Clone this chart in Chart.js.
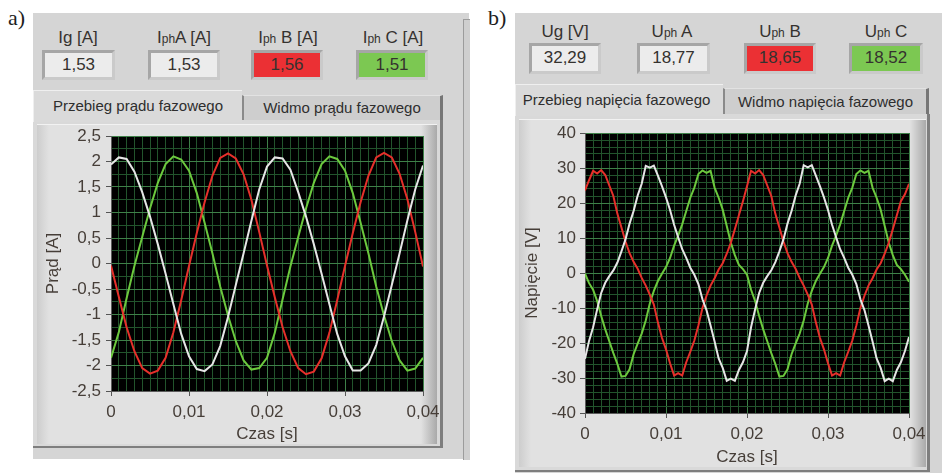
<!DOCTYPE html>
<html>
<head>
<meta charset="utf-8">
<script src="https://cdn.jsdelivr.net/npm/chart.js@4.4.1/dist/chart.umd.min.js"></script>
<style>
  body { margin:0; width:942px; height:475px; background:#fff; position:relative; overflow:hidden;
         font-family:"Liberation Sans", Arial, sans-serif; color:#35322f; }
  .a { position:absolute; }
  .panel { background:#d5d5d5; }
  .tag { font-family:"Liberation Serif", serif; font-size:22px; color:#1e1e1e; }
  .cap { width:130px; text-align:center; font-size:17px; line-height:20px; white-space:nowrap; }
  .cap .s { font-size:12px; }
  .box { box-sizing:border-box; border:3px solid; border-color:#a6a6a6 #cacaca #cacaca #a6a6a6;
         text-align:center; font-size:17px; line-height:24px; background:#ececec; }
  .red { background:#eb3034; }
  .green { background:#7cc852; }
  .tab { box-sizing:border-box; text-align:center; font-size:15px; color:#2e2e2e; white-space:nowrap; }
  .on { background:#dadada; border-top:1px solid #efefef; border-left:1px solid #efefef; }
  .off { background:#cecece; border-right:3px solid #767676; border-left:2px solid #8a8a8a; border-top:1px solid #e2e2e2; }
  .body { box-sizing:border-box; background:#d9d9d9; border-right:3px solid #7e7e7e; border-bottom:2px solid #7e7e7e; }
  .frame { background:linear-gradient(to right, #cdcdcd 0, #e1e1e1 12px, #e1e1e1 calc(100% - 16px), #a9a9a9 100%);
           border-top:1px solid #f2f2f2; }
  canvas { position:absolute; }
</style>
</head>
<body>

<div class="a tag" style="left:8px;top:5px;">a)</div>
<div class="a tag" style="left:488px;top:5px;">b)</div>

<!-- panel a -->
<div class="a panel" style="left:33px;top:13px;width:436px;height:446px;"></div>
<div class="a" style="left:463px;top:19px;width:6px;height:440px;border-left:1px solid #9c9c9c;border-top:1px solid #9c9c9c;background:#cfcfcf;"></div>

<div class="a cap" style="left:13px;top:28px;">Ig [A]</div>
<div class="a cap" style="left:119px;top:28px;">I<span class="s">ph</span>A [A]</div>
<div class="a cap" style="left:223px;top:28px;">I<span class="s">ph</span> B [A]</div>
<div class="a cap" style="left:328px;top:28px;">I<span class="s">ph</span> C [A]</div>

<div class="a box" style="left:42px;top:50px;width:73px;height:30px;">1,53</div>
<div class="a box" style="left:148px;top:50px;width:72px;height:30px;">1,53</div>
<div class="a box red" style="left:251px;top:50px;width:72px;height:30px;">1,56</div>
<div class="a box green" style="left:356px;top:50px;width:72px;height:30px;">1,51</div>

<div class="a tab off" style="left:242px;top:95px;width:201px;height:26px;line-height:24px;">Widmo prądu fazowego</div>
<div class="a body" style="left:33px;top:120px;width:410px;height:328px;"></div>
<div class="a tab on" style="left:33px;top:90px;width:209px;height:32px;line-height:30px;">Przebieg prądu fazowego</div>
<div class="a frame" style="left:37px;top:124px;width:400px;height:319px;"></div>
<canvas id="chartI" width="404" height="326" style="left:36px;top:122px;"></canvas>

<!-- panel b -->
<div class="a panel" style="left:515px;top:13px;width:427px;height:460px;"></div>

<div class="a cap" style="left:500px;top:22px;">Ug [V]</div>
<div class="a cap" style="left:607px;top:22px;">U<span class="s">ph</span> A</div>
<div class="a cap" style="left:715px;top:22px;">U<span class="s">ph</span> B</div>
<div class="a cap" style="left:821px;top:22px;">U<span class="s">ph</span> C</div>

<div class="a box" style="left:529px;top:43px;width:72px;height:31px;">32,29</div>
<div class="a box" style="left:637px;top:43px;width:73px;height:31px;">18,77</div>
<div class="a box red" style="left:744px;top:43px;width:72px;height:31px;">18,65</div>
<div class="a box green" style="left:849px;top:43px;width:74px;height:31px;">18,52</div>

<div class="a tab off" style="left:723px;top:88px;width:206px;height:27px;line-height:25px;">Widmo napięcia fazowego</div>
<div class="a body" style="left:515px;top:114px;width:415px;height:358px;"></div>
<div class="a tab on" style="left:515px;top:84px;width:208px;height:32px;line-height:30px;padding-right:6px;">Przebieg napięcia fazowego</div>
<div class="a frame" style="left:519px;top:119px;width:407px;height:347px;"></div>
<canvas id="chartU" width="412" height="350" style="left:518px;top:118px;"></canvas>

<script>
// time in ms
const timeI = [0, 1, 2, 3, 4, 5, 6, 7, 8, 9, 10, 11, 12, 13, 14, 15, 16, 17, 18, 19, 20,
  21, 22, 23, 24, 25, 26, 27, 28, 29, 30, 31, 32, 33, 34, 35, 36, 37, 38, 39, 40];

const currentA = [1.94, 2.08, 2.05, 1.8, 1.4, 0.92, 0.38, -0.2, -0.8, -1.38, -1.82, -2.07, -2.11, -1.98, -1.62, -1.05, -0.42, 0.2, 0.84, 1.45, 1.9,
  2.08, 2.06, 1.84, 1.4, 0.92, 0.38, -0.2, -0.8, -1.38, -1.82, -2.1, -2.1, -1.96, -1.6, -1.04, -0.42, 0.2, 0.85, 1.45, 1.92];
const currentB = [-0.04, -0.65, -1.25, -1.72, -2.05, -2.16, -2.1, -1.85, -1.35, -0.72, -0.05, 0.6, 1.2, 1.72, 2.07, 2.16, 2.06, 1.75, 1.25, 0.62, -0.04,
  -0.66, -1.25, -1.72, -2.05, -2.17, -2.12, -1.86, -1.36, -0.72, -0.05, 0.6, 1.2, 1.72, 2.08, 2.17, 2.08, 1.76, 1.26, 0.62, -0.06];
const currentC = [-1.85, -1.35, -0.68, -0.05, 0.52, 1.08, 1.58, 1.95, 2.1, 2.04, 1.82, 1.38, 0.8, 0.2, -0.45, -1.02, -1.52, -1.9, -2.08, -2.05, -1.85,
  -1.36, -0.7, -0.06, 0.52, 1.08, 1.58, 1.95, 2.1, 2.05, 1.82, 1.38, 0.8, 0.2, -0.45, -1.02, -1.52, -1.9, -2.1, -2.06, -1.85];

const timeU = [0, 0.5, 1, 1.5, 2, 2.5, 3, 3.5, 4, 4.5, 5, 5.5, 6, 6.5, 7, 7.5, 8, 8.5, 9, 9.5, 10,
  10.5, 11, 11.5, 12, 12.5, 13, 13.5, 14, 14.5, 15, 15.5, 16, 16.5, 17, 17.5, 18, 18.5, 19, 19.5, 20,
  20.5, 21, 21.5, 22, 22.5, 23, 23.5, 24, 24.5, 25, 25.5, 26, 26.5, 27, 27.5, 28, 28.5, 29, 29.5, 30,
  30.5, 31, 31.5, 32, 32.5, 33, 33.5, 34, 34.5, 35, 35.5, 36, 36.5, 37, 37.5, 38, 38.5, 39, 39.5, 40];

const voltageA = [-24.5, -19.4, -15.5, -10.4, -5.7, -2.8, -0.9, 0.75, 3.0, 6.2, 9.6, 14.1, 17.7, 22.1, 25.5, 30.6, 30.1, 30.7, 27.8, 24.8, 21.6,
  18, 13.8, 10.2, 6.8, 4.3, 1.5, -0.5, -3.2, -7.5, -10.6, -15, -19.6, -24.4, -27.1, -30.8, -30.2, -30.8, -27.7, -25.5, -22.3,
  -15.5, -10.4, -5.7, -2.8, -0.9, 0.8, 3.1, 6.2, 9.6, 14.1, 17.7, 22.1, 25.5, 30.8, 30.2, 30.8, 27.8, 24.8, 21.6, 18,
  13.8, 10.2, 6.8, 4.3, 1.5, -0.5, -3.2, -7.5, -10.6, -15, -19.6, -24.4, -27.1, -30.9, -30.2, -30.9, -27.7, -25.5, -22.3, -18.3];
const voltageB = [23.6, 26.5, 29.2, 28.4, 29.4, 28, 25, 22, 16.9, 13, 9, 5.7, 3.2, 1.2, -1.4, -3.6, -6.2, -9, -14.1, -18.5, -21.8,
  -25.8, -29.3, -28.6, -29.3, -25.5, -22.5, -19.3, -15, -10, -6.5, -3.6, -1.5, 1, 2.8, 5.5, 8.6, 12.5, 16.5, 20.5, 24.8,
  29.2, 28.4, 29.4, 28, 25, 22, 16.9, 13, 9, 5.7, 3.2, 1.2, -1.4, -3.6, -6.2, -9, -14.1, -18.5, -21.8, -25.8,
  -29.3, -28.6, -29.3, -25.5, -22.5, -19.3, -15, -10, -6.5, -3.6, -1.5, 1, 2.8, 5.5, 8.6, 12.5, 16.5, 20.5, 22.5, 25.5];
const voltageC = [-0.2, -2.9, -4.8, -8, -12.3, -16.1, -19.5, -22.9, -26, -29.6, -29.4, -27.5, -23.2, -20.2, -17.3, -13.6, -8.7, -5.1, -2.3, -0.2, 1.7,
  4.3, 7.8, 10.7, 13.9, 17.7, 21.5, 24.4, 28.3, 29.3, 28.6, 29.2, 24.4, 21.5, 18.1, 13.4, 8.7, 5.1, 2.3, 1.1, -0.5,
  -4.8, -8, -12.3, -16.1, -19.5, -22.9, -26, -29.6, -29.4, -27.5, -23.2, -20.2, -17.3, -13.6, -8.7, -5.1, -2.3, -0.2, 1.7, 4.3,
  7.8, 10.7, 13.9, 17.7, 21.5, 24.4, 28.3, 29.3, 28.6, 29.2, 24.4, 21.5, 18.1, 13.4, 8.7, 5.1, 2.3, 1.1, -0.5, -2.5];

const PHASE_COLORS = ['#e6e6e6', '#e6302b', '#6cc93e'];
const GRID_MAJOR = 'rgb(62,128,72)';
const GRID_MINOR = 'rgb(34,84,44)';
const TEXT_COLOR = '#463e38';
const FONT = '"Liberation Sans", Arial, sans-serif';

const plotBackground = {
    id: 'plotBackground',
    beforeDraw(chart) {
        const { ctx, chartArea } = chart;
        ctx.save();
        ctx.fillStyle = '#000';
        ctx.fillRect(chartArea.left, chartArea.top, chartArea.width, chartArea.height);
        ctx.restore();
    }
};

function timeLabel(v) {
    if (v === 0) return '0';
    return (v / 1000).toFixed(2).replace('.', ',');
}

function buildChart(id, cfg) {
    const datasets = cfg.series.map((values, i) => ({
        data: cfg.time.map((t, k) => ({ x: t, y: values[k] })),
        borderColor: PHASE_COLORS[i],
        borderWidth: 2,
        pointRadius: 0,
        tension: 0,
        fill: false
    }));

    return new Chart(document.getElementById(id), {
        type: 'line',
        data: { datasets },
        options: {
            responsive: false,
            animation: false,
            events: [],
            layout: { padding: cfg.padding },
            plugins: { legend: { display: false }, tooltip: { enabled: false } },
            scales: {
                x: {
                    type: 'linear', min: 0, max: 40,
                    afterFit: s => { s.height = cfg.xHeight; s.paddingLeft = 0; s.paddingRight = 0; },
                    ticks: {
                        stepSize: 1, autoSkip: false, maxRotation: 0, minRotation: 0,
                        padding: 6, color: TEXT_COLOR, font: { family: FONT, size: 17 },
                        callback: v => (v % 10 === 0 ? timeLabel(v) : '')
                    },
                    grid: {
                        color: c => (c.tick && c.tick.value % 10 === 0 ? GRID_MAJOR : GRID_MINOR),
                        tickColor: c => (c.tick && c.tick.value % 10 === 0 ? '#555' : 'rgba(0,0,0,0)'),
                        tickLength: 5
                    },
                    border: { color: '#5c5c5c' },
                    title: {
                        display: true, text: 'Czas [s]', color: TEXT_COLOR,
                        font: { family: FONT, size: 17 }, padding: { top: 0, bottom: cfg.xTitlePad }
                    }
                },
                y: {
                    min: cfg.yMin, max: cfg.yMax,
                    afterFit: s => { s.width = cfg.yWidth; s.paddingTop = 0; s.paddingBottom = 0; },
                    ticks: {
                        stepSize: cfg.yMinor, autoSkip: false,
                        padding: cfg.yTickPad, color: TEXT_COLOR, font: { family: FONT, size: 17 },
                        callback: v => (cfg.isMajor(v) ? String(v).replace('.', ',') : '')
                    },
                    grid: {
                        color: c => (c.tick && cfg.isMajor(c.tick.value) ? GRID_MAJOR : GRID_MINOR),
                        tickColor: c => (c.tick && cfg.isMajor(c.tick.value) ? '#555' : 'rgba(0,0,0,0)'),
                        tickLength: 5
                    },
                    border: { color: '#5c5c5c' },
                    title: {
                        display: true, text: cfg.yTitle, color: TEXT_COLOR,
                        font: { family: FONT, size: 17 }, padding: { top: cfg.yTitlePad, bottom: 0 }
                    }
                }
            }
        },
        plugins: [plotBackground]
    });
}

buildChart('chartI', {
    time: timeI,
    series: [currentA, currentB, currentC],
    padding: { top: 14, right: 17, left: 0, bottom: 0 },
    xHeight: 57, yWidth: 75, xTitlePad: 3, yTitlePad: 7, yTickPad: 5,
    yMin: -2.5, yMax: 2.5, yMinor: 0.25,
    isMajor: v => Math.abs(v * 2 - Math.round(v * 2)) < 1e-6,
    yTitle: 'Prąd [A]'
});

buildChart('chartU', {
    time: timeU,
    series: [voltageA, voltageB, voltageC],
    padding: { top: 15, right: 21, left: 0, bottom: 0 },
    xHeight: 55, yWidth: 67, xTitlePad: 0, yTitlePad: 4, yTickPad: 4,
    yMin: -40, yMax: 40, yMinor: 2,
    isMajor: v => Math.round(v) % 10 === 0,
    yTitle: 'Napięcie [V]'
});
</script>
</body>
</html>
